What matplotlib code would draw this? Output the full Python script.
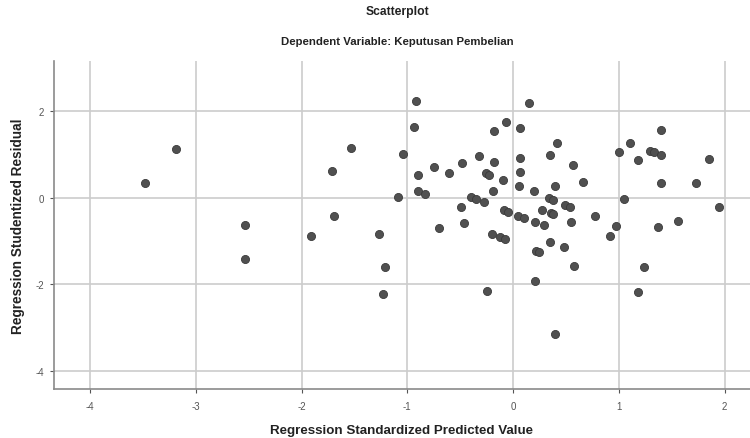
import numpy as np
import matplotlib.pyplot as plt

plt.rcParams['font.family'] = ['Liberation Sans', 'DejaVu Sans']
plt.rcParams['axes.unicode_minus'] = False

# standardized predicted value (x) and studentized residual (y)
pred = [-3.185, -3.476, -2.536, -2.536, -0.921, -0.934, -1.530, -1.041, -1.716, -0.748,
        -0.483, -0.325, -0.183, -0.070, 0.065, -0.183, -0.603, -0.899, -0.259, -0.227,
        -0.095, -0.189, 0.065, 0.069, 0.053, -0.899, -0.830, -1.085, -0.395, -0.347,
        -0.278, -0.489, -0.089, -0.051, -1.697, -0.467, -0.704, -1.911, -1.268, -0.196,
        -0.120, -0.073, -1.208, -1.234, -0.246, 0.148, 0.416, 0.350, 0.571, 0.662,
        0.400, 0.195, 0.337, 0.380, 0.495, 0.536, 0.274, 0.355, 0.375, 0.047,
        0.100, 0.205, 0.290, 0.552, 0.772, 0.977, 0.921, 0.999, 1.103, 1.183,
        1.299, 1.337, 1.394, 1.403, 1.400, 1.851, 1.725, 1.047, 1.945, 1.561,
        1.372, 0.346, 0.479, 0.218, 0.243, 0.573, 0.205, 0.400, 1.242, 1.179]
resid = [1.120, 0.340, -0.625, -1.410, 2.250, 1.640, 1.165, 1.020, 0.630, 0.725,
         0.800, 0.965, 1.540, 1.750, 1.610, 0.840, 0.580, 0.525, 0.570, 0.530,
         0.420, 0.170, 0.925, 0.595, 0.280, 0.170, 0.100, 0.016, 0.030, -0.023,
         -0.085, -0.216, -0.270, -0.320, -0.417, -0.580, -0.690, -0.890, -0.830, -0.830,
         -0.910, -0.960, -1.597, -2.215, -2.160, 2.190, 1.280, 0.995, 0.770, 0.370,
         0.280, 0.155, -0.008, -0.045, -0.160, -0.200, -0.270, -0.355, -0.385, -0.425,
         -0.465, -0.560, -0.625, -0.560, -0.430, -0.640, -0.890, 1.050, 1.280, 0.880,
         1.095, 1.060, 0.995, 1.560, 0.340, 0.900, 0.340, -0.023, -0.216, -0.525,
         -0.680, -1.020, -1.145, -1.220, -1.260, -1.580, -1.930, -3.160, -1.590, -2.190]

x_ticks = [-4, -3, -2, -1, 0, 1, 2]
y_ticks = [-4, -2, 0, 2]

fig = plt.figure(figsize=(7.5, 4.39), dpi=100)
ax = fig.add_axes([0.072, 0.112, 0.928, 0.747])

ax.scatter(pred, resid, s=34, c='#505050', edgecolors='#3a3a3a', linewidths=0.6, zorder=3)

ax.set_xlim(-4.34, 2.24)
ax.set_ylim(-4.42, 3.17)
ax.set_xticks(x_ticks)
ax.set_yticks(y_ticks)
ax.grid(True, color='#cccccc', linewidth=1.2)
ax.set_axisbelow(True)

for s in ['top', 'right']:
    ax.spines[s].set_visible(False)
for s in ['left', 'bottom']:
    ax.spines[s].set_color('#8a8a8a')
    ax.spines[s].set_linewidth(1.2)

ax.tick_params(labelsize=7, colors='#555555', length=3, width=0.8, pad=4)
ax.tick_params(axis='x', pad=6)

ax.set_xlabel('Regression Standardized Predicted Value', fontsize=9.6, fontweight='bold',
              color='#222222')
ax.set_ylabel('Regression Studentized Residual', fontsize=9.8, fontweight='bold',
              color='#222222')
ax.xaxis.set_label_coords(0.5, -0.107)
ax.yaxis.set_label_coords(-0.041, 0.5)

fig.text(0.53, 0.972, 'Scatterplot', ha='center', va='center', fontsize=8.7,
         fontweight='bold', color='#222222')
fig.text(0.53, 0.904, 'Dependent Variable: Keputusan Pembelian', ha='center', va='center',
         fontsize=8.2, fontweight='bold', color='#222222')

fig.savefig('out.png', dpi=100)
